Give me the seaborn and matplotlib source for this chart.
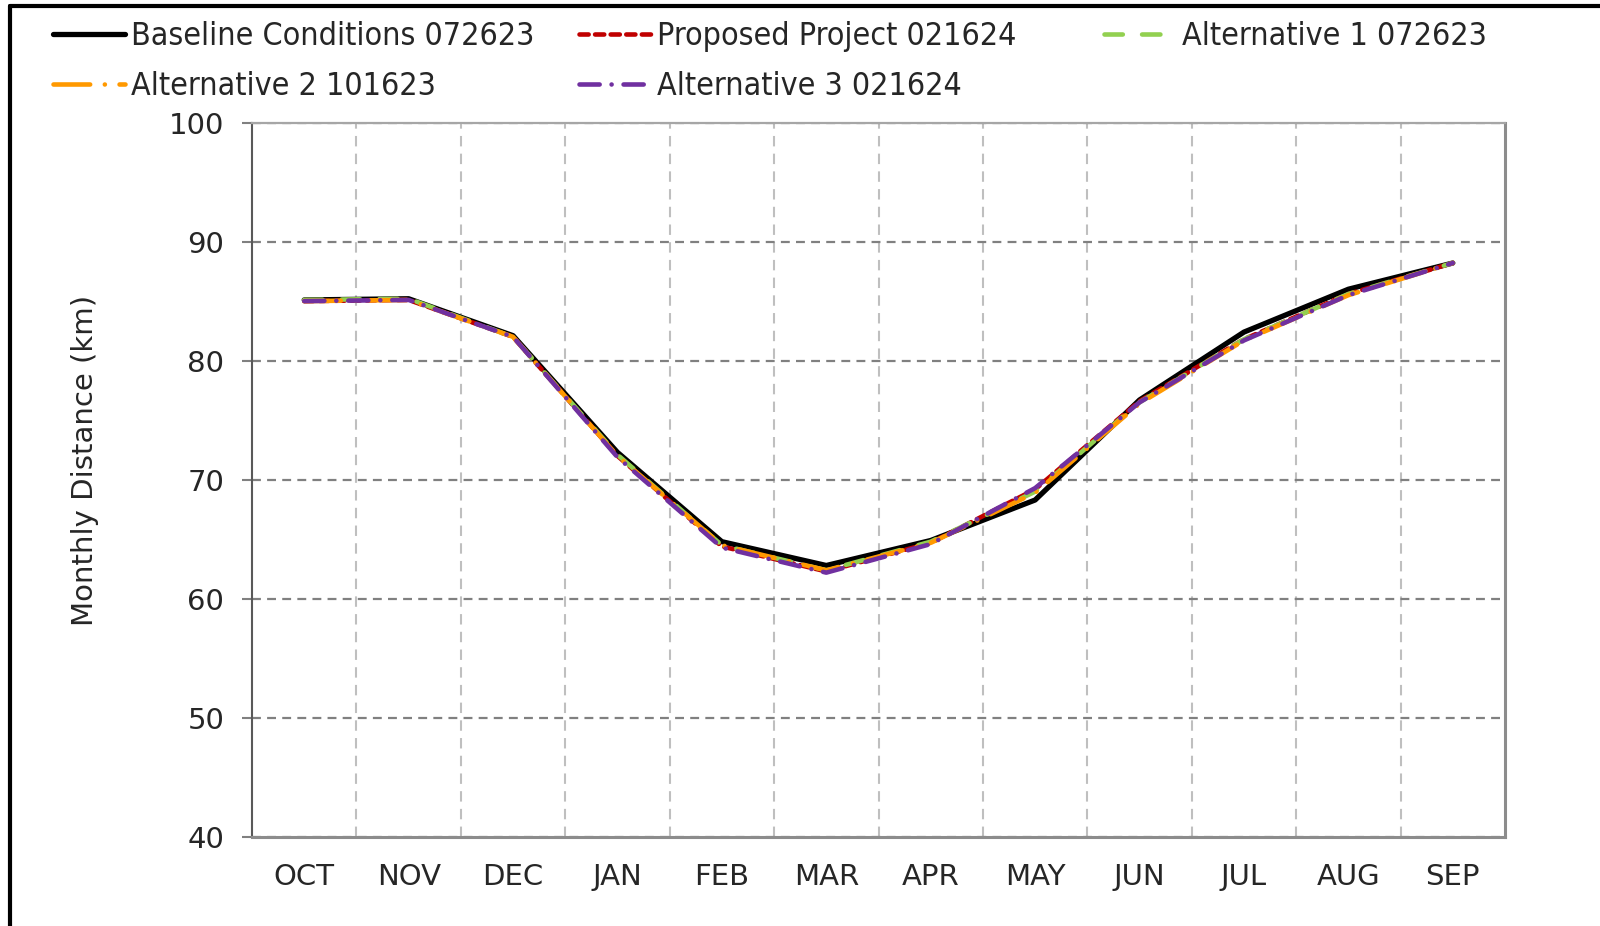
import matplotlib
matplotlib.use("Agg")
import matplotlib.pyplot as plt
import seaborn as sns
import pandas as pd
from matplotlib.lines import Line2D

months = ["OCT", "NOV", "DEC", "JAN", "FEB", "MAR", "APR", "MAY", "JUN", "JUL", "AUG", "SEP"]
baseline = [85.1, 85.2, 82.1, 72.3, 64.8, 62.8, 64.9, 68.3, 76.7, 82.4, 86.0, 88.2]
proposed = [85.0, 85.1, 82.0, 72.0, 64.4, 62.3, 64.7, 69.2, 76.6, 81.8, 85.6, 88.2]
alt1 = [85.1, 85.2, 82.0, 72.1, 64.5, 62.4, 64.8, 69.0, 76.5, 81.8, 85.6, 88.2]
alt2 = [85.0, 85.1, 82.0, 72.0, 64.5, 62.4, 64.7, 68.9, 76.4, 81.7, 85.5, 88.2]
alt3 = [85.0, 85.1, 82.0, 71.9, 64.3, 62.2, 64.6, 69.3, 76.5, 81.7, 85.5, 88.2]
yticks = [40, 50, 60, 70, 80, 90, 100]

labels = ["Baseline Conditions 072623", "Proposed Project 021624", "Alternative 1 072623",
          "Alternative 2 101623", "Alternative 3 021624"]
series = [baseline, proposed, alt1, alt2, alt3]
colors = ["#000000", "#C00000", "#92D050", "#FF9900", "#7030A0"]
styles = [None, (2.0, 1.4), (4.0, 4.2), (8.0, 3.2, 0.01, 3.2), (4.4, 2.6, 0.01, 2.6)]
widths = [3.8, 3.3, 3.3, 3.3, 3.3]

sns.set_style("white")
plt.rcParams['font.family'] = ['DejaVu Sans']

fig = plt.figure(figsize=(16, 9.26), dpi=100)
ax = fig.add_axes([252/1600, 1-837/926, (1505-252)/1600, (837-122.5)/926])

xpos = list(range(len(months)))
handles = []
for lab, vals, col, st, lw in zip(labels, series, colors, styles, widths):
    df = pd.DataFrame({"x": xpos, "y": vals})
    kw = {}
    if st is not None:
        kw["dashes"] = st
    sns.lineplot(data=df, x="x", y="y", ax=ax, color=col, linewidth=lw,
                 sort=False, legend=False, **kw)
    line = ax.get_lines()[-1]
    line.set_dash_capstyle("round")
    line.set_solid_capstyle("round")
    h = Line2D([0], [0], color=col, linewidth=lw)
    if st is not None:
        h.set_dashes(st)
    h.set_dash_capstyle("round")
    handles.append(h)

ax.set_xlim(-0.5, 11.5)
ax.set_ylim(40, 100)
ax.set_xticks(xpos)
ax.set_xticklabels(months)
ax.set_xticks([i + 0.5 for i in range(11)], minor=True)
ax.set_yticks(yticks)
ax.set_xlabel("")
ax.set_ylabel("Monthly Distance (km)", fontsize=21, labelpad=50)
ax.yaxis.label.set_y(0.527)

ax.grid(False)
ax.grid(which="minor", axis="x", color="#BFBFBF", linestyle=(0, (5, 3.5)), linewidth=1.5)
ax.grid(which="major", axis="y", color="#808080", linestyle=(0, (4, 2.8)), linewidth=1.6)
ax.set_axisbelow(True)

ax.tick_params(axis="x", which="both", length=0, labelsize=21, pad=19)
ax.tick_params(axis="y", which="major", length=7, width=1.5, color="#808080",
               labelsize=21, pad=13, direction="out", left=True)
ax.tick_params(axis="y", which="minor", length=0)

ax.spines["left"].set_color("#595959")
ax.spines["left"].set_linewidth(1.5)
ax.spines["bottom"].set_color("#8C8C8C")
ax.spines["bottom"].set_linewidth(2.2)
ax.spines["right"].set_color("#8C8C8C")
ax.spines["right"].set_linewidth(2.2)
ax.spines["top"].set_color("#A6A6A6")
ax.spines["top"].set_linewidth(1.6)
for s in ax.spines.values():
    s.set_visible(True)

# legend in three columns
cols = [(53, [0, 3]), (579, [1, 4]), (1104, [2])]
leg_font = {"family": "DejaVu Sans", "stretch": "condensed", "size": 23}
for xpx, idxs in cols:
    leg = fig.legend([handles[i] for i in idxs], [labels[i] for i in idxs],
                     loc="upper left", bbox_to_anchor=(xpx/1600, 1 - 21/926),
                     frameon=False, prop=leg_font, handlelength=2.24,
                     handletextpad=0.2, borderaxespad=0, borderpad=0,
                     labelspacing=0.6)

# figure border (left & top)
fig.add_artist(Line2D([10/1600, 10/1600], [0, 1 - 6/926], transform=fig.transFigure,
                      color="black", linewidth=3))
fig.add_artist(Line2D([10/1600, 1], [1 - 6/926, 1 - 6/926], transform=fig.transFigure,
                      color="black", linewidth=3))

fig.savefig("out.png", dpi=100)
